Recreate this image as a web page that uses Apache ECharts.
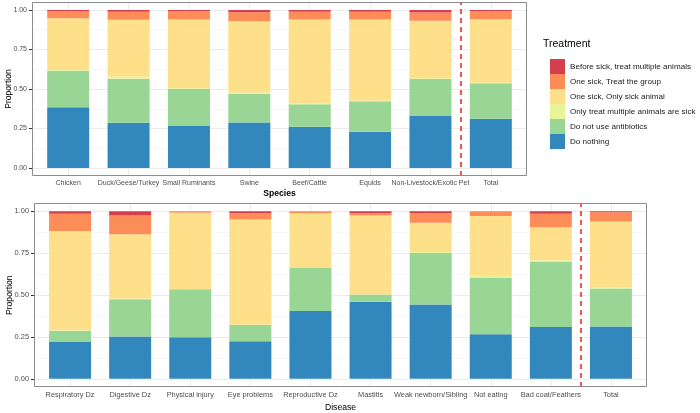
<!DOCTYPE html>
<html>
<head>
<meta charset="utf-8">
<title>Treatment by species and disease</title>
<script src="https://cdn.jsdelivr.net/npm/echarts@6/dist/echarts.min.js"></script>
<style>
  html, body {margin: 0; padding: 0; background: #fff;}
  #chart {width: 700px; height: 413px;}
</style>
</head>
<body>
<div id="chart"></div>
<script>
// categories
var species = ['Chicken', 'Duck/Geese/Turkey', 'Small Ruminants', 'Swine', 'Beef/Cattle', 'Equids', 'Non-Livestock/Exotic Pet', 'Total'];
var disease = ['Respiratory Dz', 'Digestive Dz', 'Physical injury', 'Eye problems', 'Reproductive Dz', 'Mastitis', 'Weak newborn/Sibling', 'Not eating', 'Bad coat/Feathers', 'Total'];

// stacked bottom -> top
var treatments = ['Do nothing', 'Do not use antibiotics', 'Only treat multiple animals are sick', 'One sick, Only sick animal', 'One sick, Treat the group', 'Before sick, treat multiple animals'];

// species panel
var spNothing   = [0.384, 0.287, 0.266, 0.289, 0.262, 0.230, 0.333, 0.312];
var spNoAbx     = [0.232, 0.278, 0.234, 0.181, 0.141, 0.192, 0.230, 0.224];
var spOnlyMulti = [0.004, 0.013, 0.004, 0.007, 0.004, 0.004, 0.005, 0.004];
var spOnlySick  = [0.327, 0.359, 0.435, 0.451, 0.532, 0.513, 0.364, 0.401];
var spGroup     = [0.045, 0.052, 0.053, 0.057, 0.050, 0.050, 0.051, 0.051];
var spBefore    = [0.008, 0.011, 0.008, 0.015, 0.011, 0.011, 0.017, 0.008];

// disease panel
var dzNothing   = [0.219, 0.252, 0.247, 0.223, 0.404, 0.459, 0.443, 0.266, 0.308, 0.312];
var dzNoAbx     = [0.067, 0.223, 0.288, 0.099, 0.260, 0.044, 0.308, 0.338, 0.392, 0.227];
var dzOnlyMulti = [0.004, 0.004, 0.000, 0.000, 0.000, 0.000, 0.006, 0.016, 0.006, 0.004];
var dzOnlySick  = [0.593, 0.384, 0.457, 0.630, 0.324, 0.473, 0.175, 0.352, 0.199, 0.397];
var dzGroup     = [0.103, 0.113, 0.008, 0.036, 0.012, 0.014, 0.056, 0.028, 0.081, 0.054];
var dzBefore    = [0.014, 0.024, 0.000, 0.012, 0.000, 0.010, 0.012, 0.000, 0.014, 0.006];

var palette = ['#3288BD', '#99D594', '#E6F598', '#FEE08B', '#FC8D59', '#D53E4F'];
var font = 'Liberation Sans, Arial, sans-serif';

// vertical grid lines at each bar, under the bars
function gridLines(n) {
  var d = [];
  for (var i = 0; i < n; i++) d.push({xAxis: i});
  return {
    silent: true, symbol: ['none', 'none'], z: 1, animation: false,
    label: {show: false},
    lineStyle: {color: '#ebebeb', type: 'solid', width: 1},
    data: d
  };
}

function panelSeries(p, n, rows) {
  return rows.map(function (vals, k) {
    var s = {
      name: treatments[k],
      type: 'bar',
      stack: 'panel' + p,
      xAxisIndex: p,
      yAxisIndex: p,
      barWidth: 42,
      itemStyle: {color: palette[k]},
      data: vals
    };
    if (k === 0) s.markLine = gridLines(n);
    return s;
  });
}

// red dashed separator before "Total", on a hidden value axis aligned with the bands
function separator(p, n) {
  return {
    type: 'line', xAxisIndex: 4 + p, yAxisIndex: p, data: [], silent: true,
    markLine: {
      silent: true, symbol: ['none', 'none'], z: 5, animation: false,
      label: {show: false},
      lineStyle: {color: '#e8201c', type: [5, 4], width: 1.5},
      data: [{xAxis: n - 1.5}]
    }
  };
}

function catAxis(p, cats, title, bold, gap) {
  return {
    type: 'category', gridIndex: p, data: cats,
    axisLine: {show: false},
    splitLine: {show: false},
    axisTick: {alignWithLabel: true, interval: 0, length: 3, lineStyle: {color: '#333'}},
    axisLabel: {
      interval: 0, margin: 4, fontSize: p === 0 ? 7 : 7.4,
      color: '#4d4d4d', fontFamily: font
    },
    name: title, nameLocation: 'middle', nameGap: gap, nameMoveOverlap: false,
    nameTextStyle: {fontSize: 8.6, color: '#000', fontFamily: font, fontWeight: bold ? 'bold' : 'normal'}
  };
}

function hiddenX(g, min, max) {
  return {type: 'value', gridIndex: g, min: min, max: max, show: false};
}

// bar axis keeps ggplot's 5% padding; labels come from the inset label grid
function barY(p) {
  return {type: 'value', gridIndex: p, min: -0.05, max: 1.05, show: false};
}

function labelY(g, p, gap) {
  return {
    type: 'value', gridIndex: g, min: 0, max: 1, interval: 0.25,
    axisLine: {show: false},
    axisTick: {show: true, length: 3, lineStyle: {color: '#333'}},
    axisLabel: {
      margin: 5, fontSize: p === 0 ? 7 : 7.4, color: '#4d4d4d', fontFamily: font,
      formatter: function (v) { return v.toFixed(2); }
    },
    splitLine: {show: true, lineStyle: {color: '#ebebeb', width: 1}},
    minorTick: {show: false, splitNumber: 2},
    minorSplitLine: {show: true, lineStyle: {color: '#f2f2f2', width: 0.6}},
    name: 'Proportion', nameLocation: 'middle', nameGap: gap, nameMoveOverlap: false,
    nameTextStyle: {fontSize: 8.6, color: '#000', fontFamily: font}
  };
}

function grid(left, top, width, height) {
  return {left: left, top: top, width: width, height: height,
    containLabel: false, outerBoundsMode: 'none'};
}

var chart = echarts.init(document.getElementById('chart'));
chart.setOption({
  animation: false,
  backgroundColor: '#fff',
  grid: [
    // bar grids: ggplot pads discrete axes by 0.6 band, so the box sits 0.1 band outside
    grid(38, 2, 483, 174),
    grid(40, 203, 601, 184),
    // label grids: full panel width, 0..1 range inside the 5% padding
    grid(32, 9.9, 495, 158.2),
    grid(34, 211.4, 613, 167.6)
  ],
  xAxis: [
    catAxis(0, species, 'Species', true, 13),
    catAxis(1, disease, 'Disease', false, 16),
    hiddenX(2, 0, 1),
    hiddenX(3, 0, 1),
    hiddenX(0, -0.5, species.length - 0.5),
    hiddenX(1, -0.5, disease.length - 0.5)
  ],
  yAxis: [barY(0), barY(1), labelY(2, 0, 18.5), labelY(3, 1, 20)],
  legend: {
    orient: 'vertical', left: 545, top: 54,
    itemWidth: 15, itemHeight: 15, itemGap: 0, icon: 'rect',
    selectedMode: false,
    data: treatments.slice().reverse(),
    textStyle: {fontSize: 8.1, color: '#1a1a1a', fontFamily: font}
  },
  graphic: [
    {type: 'text', left: 543, top: 39,
      style: {text: 'Treatment', fontSize: 10.5, fill: '#000', fontFamily: font}},
    {type: 'rect', z: 10, silent: true, shape: {x: 32.5, y: 2.5, width: 494, height: 173},
      style: {fill: null, stroke: '#8c8c8c', lineWidth: 1}},
    {type: 'rect', z: 10, silent: true, shape: {x: 34.5, y: 203.5, width: 612, height: 183},
      style: {fill: null, stroke: '#8c8c8c', lineWidth: 1}}
  ],
  series: panelSeries(0, species.length,
      [spNothing, spNoAbx, spOnlyMulti, spOnlySick, spGroup, spBefore])
    .concat(panelSeries(1, disease.length,
      [dzNothing, dzNoAbx, dzOnlyMulti, dzOnlySick, dzGroup, dzBefore]))
    .concat([separator(0, species.length), separator(1, disease.length)])
});
window.onresize = chart.resize;
</script>
</body>
</html>
